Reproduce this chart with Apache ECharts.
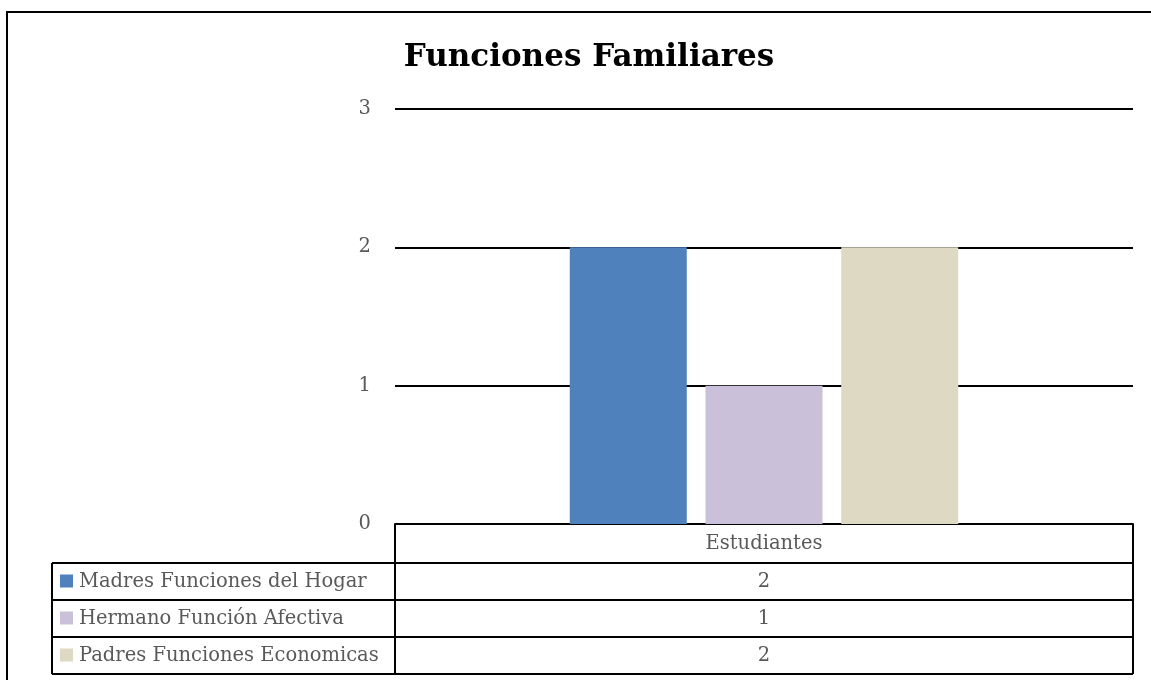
<!DOCTYPE html>
<html><head><meta charset="utf-8">
<script src="https://cdn.jsdelivr.net/npm/echarts@6/dist/echarts.min.js"></script>
<style>html,body{margin:0;padding:0;background:#fff}#c{width:1151px;height:680px}</style>
</head><body><div id="c"></div>
<script>
const titleText = 'Funciones Familiares';
const categories = ['Estudiantes'];
const seriesNames = ['Madres Funciones del Hogar', 'Hermano Función Afectiva', 'Padres Funciones Economicas'];
const madres = [2];
const hermano = [1];
const padres = [2];
const seriesValues = [madres, hermano, padres];
const colors = ['#4F81BD', '#CBC0DA', '#DDD9C3'];
const yTicks = [0, 1, 2, 3];

const FONT = '"DejaVu Serif", "Liberation Serif", serif';
const FS = 19.5;
const chart = echarts.init(document.getElementById('c'), null, {renderer: 'canvas'});
const gridL = 395, gridR = 18, gridT = 109, gridB = 156;
const option = {
  animation: false,
  title: {text: titleText, left: 584, top: 37, textAlign: 'center',
    textStyle: {fontFamily: FONT, fontWeight: 'bold', fontSize: 31, color: '#000'}},
  grid: {left: gridL, right: gridR, top: gridT, bottom: gridB},
  xAxis: {type: 'category', data: categories,
    axisLine: {lineStyle: {color: '#000', width: 2}}, axisTick: {show: false}, axisLabel: {show: false}},
  yAxis: {type: 'value', min: yTicks[0], max: yTicks[yTicks.length - 1], interval: 1,
    axisLine: {show: false}, axisTick: {show: false},
    axisLabel: {margin: 24, color: '#595959', fontFamily: FONT, fontSize: FS},
    splitLine: {lineStyle: {color: '#000', width: 2}}},
  series: seriesNames.map((n, i) => ({
    name: n, type: 'bar', data: seriesValues[i], barWidth: 117, barGap: '16%',
    itemStyle: {color: colors[i]}
  }))
};
chart.setOption(option);

// data table
const x0 = 52, x1 = gridL, x2 = 1151 - gridR;
const yAxis0 = chart.convertToPixel({yAxisIndex: 0}, 0);
const rowH = 37;
const headerH = 39;
const g = [];
const line = (ax, ay, bx, by) => g.push({type: 'line', shape: {x1: ax, y1: ay, x2: bx, y2: by}, style: {stroke: '#000', lineWidth: 2}});
const catCenter = chart.convertToPixel({xAxisIndex: 0}, categories[0]);
line(x1, yAxis0, x1, yAxis0 + headerH);
line(x2, yAxis0, x2, yAxis0 + headerH + rowH * seriesNames.length);
g.push({type: 'text', style: {text: categories[0], x: catCenter, y: yAxis0 + headerH / 2, textAlign: 'center', textVerticalAlign: 'middle', fill: '#595959', font: FS + 'px ' + FONT}});
for (let i = 0; i <= seriesNames.length; i++) {
  const y = yAxis0 + headerH + rowH * i;
  line(x0, y, x2, y);
}
line(x0, yAxis0 + headerH, x0, yAxis0 + headerH + rowH * seriesNames.length);
line(x1, yAxis0 + headerH, x1, yAxis0 + headerH + rowH * seriesNames.length);
seriesNames.forEach((n, i) => {
  const yc = yAxis0 + headerH + rowH * i + rowH / 2;
  g.push({type: 'rect', shape: {x: 60, y: yc - 7, width: 13, height: 13}, style: {fill: colors[i]}});
  g.push({type: 'text', style: {text: n, x: 79, y: yc, textVerticalAlign: 'middle', fill: '#595959', font: FS + 'px ' + FONT}});
  g.push({type: 'text', style: {text: String(seriesValues[i][0]), x: catCenter, y: yc, textAlign: 'center', textVerticalAlign: 'middle', fill: '#595959', font: FS + 'px ' + FONT}});
});
g.push({type: 'rect', shape: {x: 7, y: 12, width: 1160, height: 700}, style: {fill: 'none', stroke: '#000', lineWidth: 2}});
chart.setOption({graphic: g.map(e => Object.assign({silent: true}, e))});
</script></body></html>
